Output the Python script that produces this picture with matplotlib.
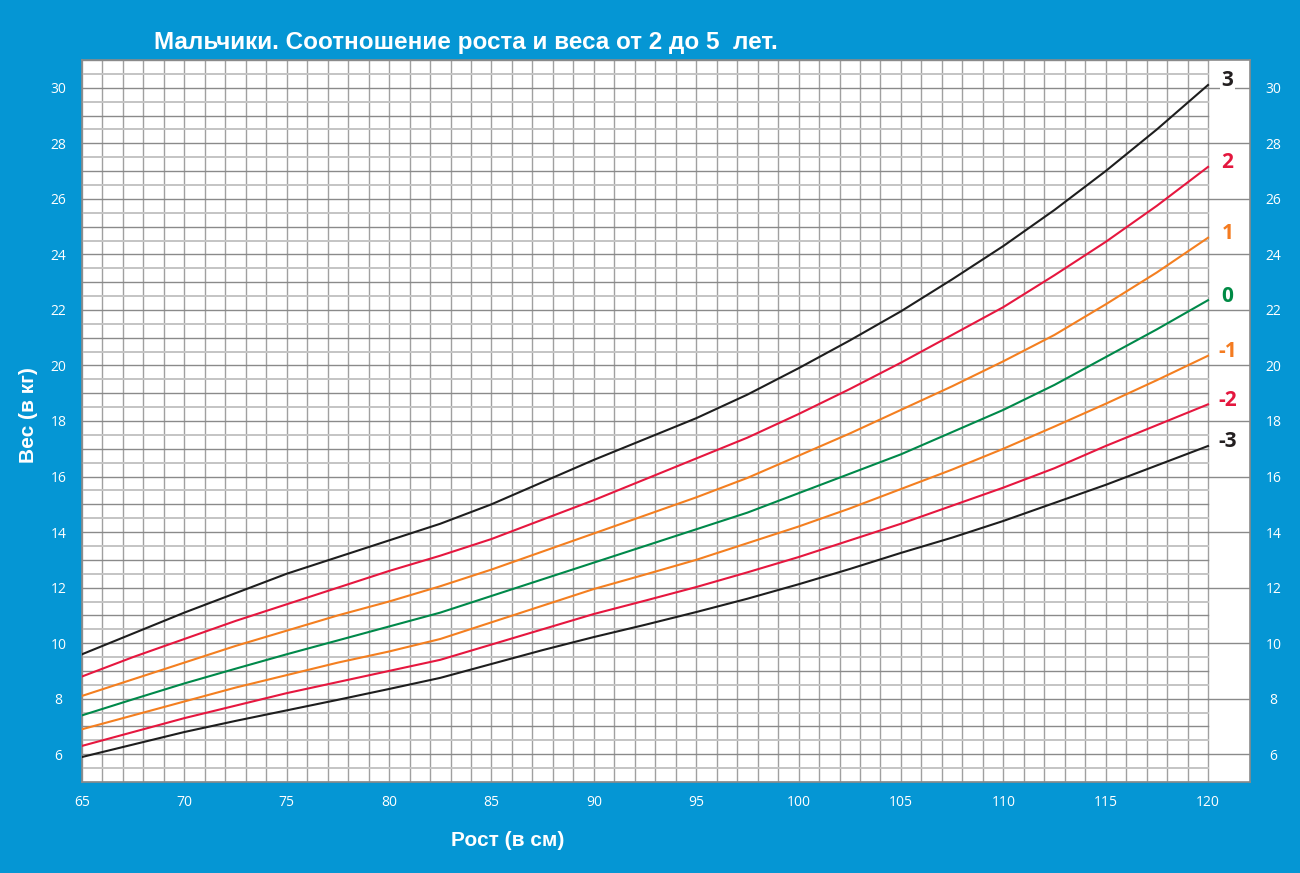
import matplotlib
matplotlib.use("Agg")
import matplotlib.pyplot as plt
from matplotlib import font_manager

# ---------------- data ----------------
height_cm = [65, 67.5, 70, 72.5, 75, 77.5, 80, 82.5, 85, 87.5, 90, 92.5, 95,
             97.5, 100, 102.5, 105, 107.5, 110, 112.5, 115, 117.5, 120]
sd_p3 = [9.6, 10.35, 11.1, 11.8, 12.5, 13.1, 13.7, 14.3, 15.0, 15.8, 16.6, 17.35, 18.1,
         18.95, 19.9, 20.9, 21.95, 23.1, 24.3, 25.6, 27.0, 28.5, 30.1]
sd_p2 = [8.8, 9.5, 10.15, 10.8, 11.4, 12.0, 12.6, 13.15, 13.75, 14.45, 15.15, 15.9, 16.65,
         17.4, 18.25, 19.15, 20.1, 21.1, 22.1, 23.25, 24.45, 25.75, 27.15]
sd_p1 = [8.1, 8.7, 9.3, 9.9, 10.45, 11.0, 11.5, 12.05, 12.65, 13.3, 13.95, 14.6, 15.25,
         15.95, 16.75, 17.55, 18.4, 19.25, 20.15, 21.1, 22.2, 23.35, 24.6]
sd_0 = [7.4, 7.98, 8.55, 9.08, 9.6, 10.1, 10.6, 11.1, 11.7, 12.3, 12.9, 13.5, 14.1,
        14.7, 15.4, 16.1, 16.8, 17.6, 18.4, 19.3, 20.3, 21.3, 22.35]
sd_m1 = [6.9, 7.4, 7.9, 8.4, 8.85, 9.3, 9.7, 10.15, 10.75, 11.35, 11.95, 12.47, 13.0,
         13.6, 14.2, 14.85, 15.55, 16.25, 17.0, 17.8, 18.62, 19.47, 20.35]
sd_m2 = [6.3, 6.8, 7.3, 7.75, 8.2, 8.6, 9.0, 9.4, 9.95, 10.5, 11.05, 11.53, 12.02,
         12.55, 13.1, 13.7, 14.3, 14.95, 15.6, 16.3, 17.1, 17.85, 18.6]
sd_m3 = [5.9, 6.35, 6.8, 7.2, 7.58, 7.96, 8.35, 8.75, 9.25, 9.75, 10.22, 10.66, 11.12,
         11.6, 12.12, 12.67, 13.25, 13.8, 14.4, 15.05, 15.7, 16.4, 17.1]

series_labels = ["3", "2", "1", "0", "-1", "-2", "-3"]
series_values = [sd_p3, sd_p2, sd_p1, sd_0, sd_m1, sd_m2, sd_m3]
x_ticks = [65, 70, 75, 80, 85, 90, 95, 100, 105, 110, 115, 120]
y_ticks = [6, 8, 10, 12, 14, 16, 18, 20, 22, 24, 26, 28, 30]

title_text = "Мальчики. Соотношение роста и веса от 2 до 5  лет."
xlabel_text = "Рост (в см)"
ylabel_text = "Вес (в кг)"

# ---------------- styles ----------------
BG = "#0596d4"
BLACK = "#1e1e1e"
RED = "#e6173f"
ORANGE = "#f47f20"
GREEN = "#00894a"
line_colors = [BLACK, RED, ORANGE, GREEN, ORANGE, RED, BLACK]
label_colors = ["#231f20", "#e4173e", "#f47b20", "#008a45", "#f47b20", "#e4173e", "#231f20"]

available = {f.name for f in font_manager.fontManager.ttflist}
narrow = "Liberation Sans Narrow" if "Liberation Sans Narrow" in available else "Liberation Sans"
plt.rcParams["font.family"] = ["Liberation Sans", "DejaVu Sans"]

W, H = 1300, 873
fig = plt.figure(figsize=(W / 100, H / 100), dpi=100, facecolor=BG)

x0, x1 = 65, 120
xr = 122.05
y0, y1 = 5, 31
ax = fig.add_axes([82 / W, (H - 782) / H, (1250 - 82) / W, (782 - 60) / H])
ax.set_facecolor("white")
ax.set_xlim(x0, xr)
ax.set_ylim(y0, y1)

# grid
for v in range(x0, x1 + 1):
    ax.plot([v, v], [y0, y1], color="#a0a0a0", lw=1.0, zorder=1)
for k in range(y0 * 2, y1 * 2 + 1):
    yv = k / 2
    if k % 2 == 0:
        ax.plot([x0, x1], [yv, yv], color="#8a8a8a", lw=1.0, zorder=1)
    else:
        ax.plot([x0, x1], [yv, yv], color="#c4c4c4", lw=1.4, zorder=1)
for yv in y_ticks:
    ax.plot([x1, xr], [yv, yv], color="#8a8a8a", lw=1.0, zorder=1)

for s in ax.spines.values():
    s.set_color("#8a8a8a")
    s.set_linewidth(1.2)

# curves
for vals, c in zip(series_values, line_colors):
    ax.plot(height_cm, vals, color=c, lw=1.5, zorder=3, solid_joinstyle="round")

# curve labels
for lab, vals, c in zip(series_labels, series_values, label_colors):
    ax.text(120.95, vals[-1] + 0.15, lab, color=c, fontsize=15, fontweight="bold",
            ha="center", va="center", family=["Open Sans", "DejaVu Sans"], zorder=4,
            bbox=dict(facecolor="white", edgecolor="none", pad=1.5))

# ticks
ax.set_xticks(x_ticks)
ax.set_yticks(y_ticks)
ax.tick_params(axis="both", length=0, colors="white", labelsize=10)
ax.tick_params(axis="x", pad=9)
ax.tick_params(axis="y", pad=17, labelright=True, right=False)
for t in ax.get_yticklabels():
    t.set_ha("center")
for lab in ax.get_xticklabels() + ax.get_yticklabels():
    lab.set_family(["Open Sans", "DejaVu Sans"])

# titles
fig.text(466 / W, 1 - 42 / H, title_text, color="white", fontsize=17.5, fontweight="bold",
         ha="center", va="center", family=[narrow, "DejaVu Sans"])
fig.text(508 / W, 1 - 840 / H, xlabel_text, color="white", fontsize=15, fontweight="bold",
         ha="center", va="center")
fig.text(28 / W, 1 - 415 / H, ylabel_text, color="white", fontsize=15, fontweight="bold",
         ha="center", va="center", rotation=90)

fig.savefig("out.png", dpi=100, facecolor=BG)
